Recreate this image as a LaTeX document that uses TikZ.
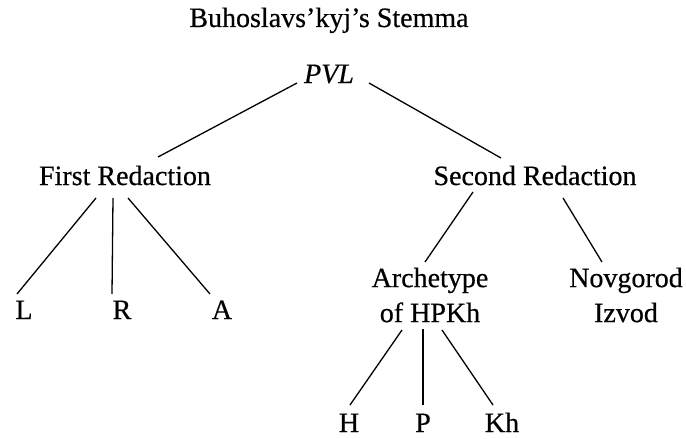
\documentclass[tikz,border=0pt]{standalone}
\usepackage{fontspec}
\setmainfont{Liberation Serif}[FakeBold=0.5]
\begin{document}
\begin{tikzpicture}[x=1pt, y=-1pt, line width=1.3pt,
  lbl/.style={font=\fontsize{28}{35}\selectfont, inner sep=0pt, anchor=base},
  twoline/.style={font=\fontsize{28}{35}\selectfont, inner sep=0pt, align=center, anchor=north}]
\useasboundingbox (0,0) rectangle (686,439);

\node[lbl] (title) at (329,27) {Buhoslavs'kyj's Stemma};
\node[lbl] (pvl) at (329,83) {\textit{PVL}};

\node[lbl] (first) at (125,185) {First Redaction};
\node[lbl] (second) at (535,185) {Second Redaction};

\node[lbl] (l) at (24,319) {L};
\node[lbl] (r) at (122,319) {R};
\node[lbl] (a) at (222,319) {A};
\node[twoline] (arch) at (430,267) {Archetype\\of HPKh};
\node[twoline] (nov) at (626,267) {Novgorod\\Izvod};

\node[lbl] (h) at (349,432) {H};
\node[lbl] (p) at (423,432) {P};
\node[lbl] (kh) at (502,432) {Kh};

% PVL to the two redactions
\draw ([shift={(-32pt,0pt)}]pvl.base) -- ([shift={(33pt,28pt)}]first.base);
\draw ([shift={(40pt,0pt)}]pvl.base) -- ([shift={(-34pt,27pt)}]second.base);

% first redaction
\draw ([shift={(-29pt,-13pt)}]first.base) -- ([shift={(-7pt,25pt)}]l.base);
\draw ([shift={(-12pt,-13pt)}]first.base) -- ([shift={(-10pt,25pt)}]r.base);
\draw ([shift={(3pt,-13pt)}]first.base) -- ([shift={(-12pt,25pt)}]a.base);

% second redaction
\draw ([shift={(-62pt,-7pt)}]second.base) -- ([shift={(-5pt,5pt)}]arch.north);
\draw ([shift={(28pt,-13pt)}]second.base) -- ([shift={(-24pt,5pt)}]nov.north);

% archetype
\draw ([shift={(-28pt,-7pt)}]arch.south) -- ([shift={(1pt,27pt)}]h.base);
\draw ([shift={(-7pt,-6pt)}]arch.south) -- ([shift={(0pt,27pt)}]p.base);
\draw ([shift={(12pt,-7pt)}]arch.south) -- ([shift={(-9pt,27pt)}]kh.base);

\end{tikzpicture}
\end{document}
